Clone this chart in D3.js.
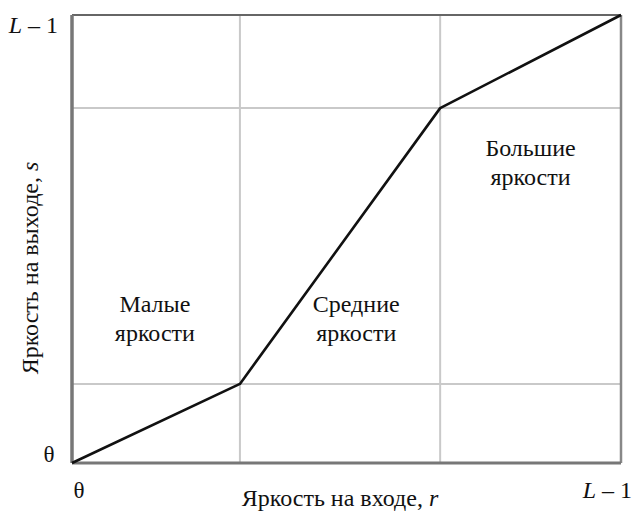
<!DOCTYPE html>
<html>
<head>
<meta charset="utf-8">
<title>Кусочно-линейное преобразование</title>
<script src="https://d3js.org/d3.v7.min.js"></script>
<style>
  body { margin: 0; background: #fff; }
</style>
</head>
<body>
<div id="chart"></div>
<script>
// уровни яркости (0 .. L-1, L = 256)
var inputLevels = [0, 78, 171, 255];
var outputLevels = [0, 45, 202, 255];
// линии сетки по точкам излома
var gridX = [78, 171];
var gridY = [45, 202];
// подписи областей
var regionLabels = [
  { r: 38.5, s: 86, lines: ["Малые", "яркости"] },
  { r: 132, s: 86, lines: ["Средние", "яркости"] },
  { r: 213, s: 175, lines: ["Большие", "яркости"] }
];

var FONT = "'Liberation Serif', 'Times New Roman', Times, serif";
var width = 636, height = 517;
var margin = { top: 15, right: 15, bottom: 54, left: 72 };
var w = width - margin.left - margin.right;
var h = height - margin.top - margin.bottom;

var svg = d3.select("#chart").append("svg")
  .attr("width", width).attr("height", height)
  .attr("font-family", FONT);
var g = svg.append("g").attr("transform", "translate(" + margin.left + "," + margin.top + ")");

var x = d3.scaleLinear().domain([0, 255]).range([0, w]);
var y = d3.scaleLinear().domain([0, 255]).range([h, 0]);

// сетка
g.selectAll(".gx").data(gridX).enter().append("line")
  .attr("x1", function(d) { return x(d); }).attr("x2", function(d) { return x(d); })
  .attr("y1", 0).attr("y2", h)
  .attr("stroke", "#c9c9c9").attr("stroke-width", 2);
g.selectAll(".gy").data(gridY).enter().append("line")
  .attr("y1", function(d) { return y(d); }).attr("y2", function(d) { return y(d); })
  .attr("x1", 0).attr("x2", w)
  .attr("stroke", "#c9c9c9").attr("stroke-width", 2);

// рамка
g.append("line").attr("x1", 0).attr("x2", w).attr("y1", 0).attr("y2", 0)
  .attr("stroke", "#666").attr("stroke-width", 2);
g.append("line").attr("x1", w).attr("x2", w).attr("y1", 0).attr("y2", h)
  .attr("stroke", "#888").attr("stroke-width", 2.5);
g.append("line").attr("x1", 0).attr("x2", w).attr("y1", h).attr("y2", h)
  .attr("stroke", "#777").attr("stroke-width", 3);
g.append("line").attr("x1", 0).attr("x2", 0).attr("y1", 0).attr("y2", h)
  .attr("stroke", "#777").attr("stroke-width", 3.5);

// функция преобразования
var pts = inputLevels.map(function(r, i) { return [r, outputLevels[i]]; });
g.append("path").datum(pts)
  .attr("fill", "none").attr("stroke", "#111").attr("stroke-width", 2.6)
  .attr("stroke-linejoin", "round")
  .attr("d", d3.line().x(function(d) { return x(d[0]); }).y(function(d) { return y(d[1]); }));

function addText(parent) {
  return parent.append("text").attr("font-family", FONT).attr("fill", "#111");
}

// подписи областей
regionLabels.forEach(function(lb) {
  var t = addText(g).attr("text-anchor", "middle").attr("font-size", 24)
    .attr("x", x(lb.r)).attr("y", y(lb.s));
  lb.lines.forEach(function(s, i) {
    t.append("tspan").attr("x", x(lb.r)).attr("dy", i === 0 ? 0 : 29).text(s);
  });
});

// подписи делений
function lMinus1(sel) {
  sel.append("tspan").attr("font-style", "italic").text("L");
  sel.append("tspan").text(" \u2013 1");
}
var t1 = addText(g).attr("x", -14).attr("y", 18).attr("text-anchor", "end").attr("font-size", 24);
lMinus1(t1);
addText(g).attr("x", -23).attr("y", h - 1).attr("text-anchor", "middle").attr("font-size", 23).text("\u03b8");
addText(g).attr("x", 7).attr("y", h + 35).attr("text-anchor", "middle").attr("font-size", 23).text("\u03b8");
var t2 = addText(g).attr("x", w + 11).attr("y", h + 35).attr("text-anchor", "end").attr("font-size", 24);
lMinus1(t2);

// названия осей
var xt = addText(g).attr("x", 340 - margin.left).attr("y", h + 43).attr("text-anchor", "middle").attr("font-size", 24);
xt.append("tspan").text("Яркость на входе, ");
xt.append("tspan").attr("font-style", "italic").text("r");

var yt = addText(svg).attr("transform", "translate(38,268) rotate(-90)")
  .attr("text-anchor", "middle").attr("font-size", 24);
yt.append("tspan").text("Яркость на выходе, ");
yt.append("tspan").attr("font-style", "italic").text("s");
</script>
</body>
</html>
